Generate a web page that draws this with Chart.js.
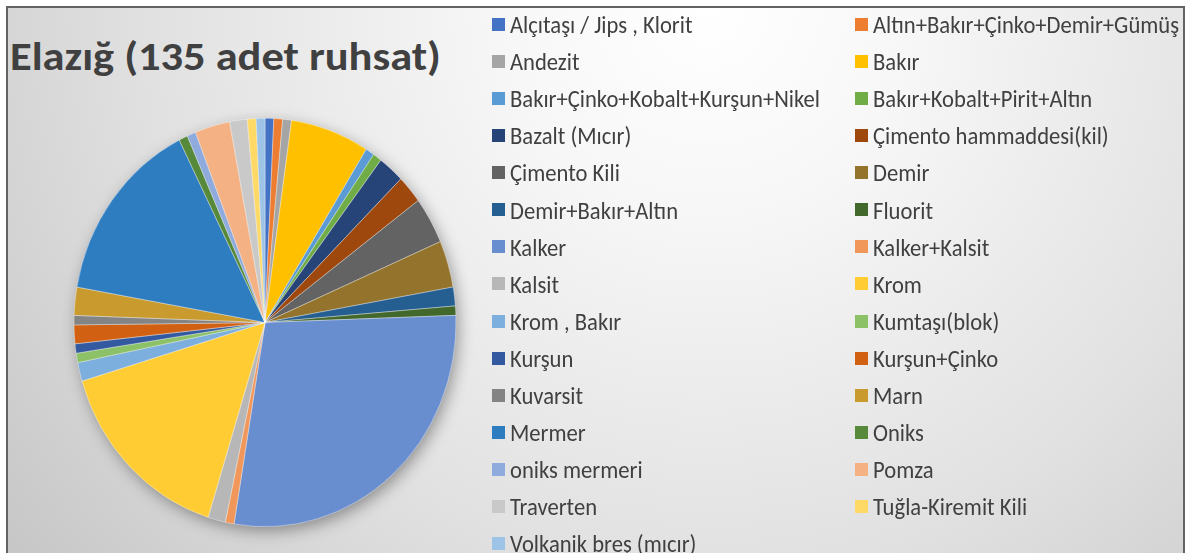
<!DOCTYPE html>
<html>
<head>
<meta charset="utf-8">
<script src="https://cdn.jsdelivr.net/npm/chart.js@4"></script>
<style>
  html, body { margin:0; padding:0; background:#ffffff; }
  body { width:1189px; height:553px; overflow:hidden; position:relative; font-family: Carlito, Lato, sans-serif; }
  #frame { position:absolute; left:6px; top:6px; width:1175px; height:600px;
    border:2px solid #636363; border-bottom:none;
    background: radial-gradient(circle at 700px 0px, #ffffff 0px, #f7f7f7 200px, #e1e1e1 560px, #c7c7c7 880px); }
  #title { position:absolute; left:10px; top:36px; font-weight:700; color:#404040; white-space:nowrap; line-height:1; transform-origin:0 0; }
  #wrap { position:absolute; left:0; top:0; width:1189px; height:553px; }
  #legend { position:absolute; left:492px; top:6px; display:grid; grid-template-columns:363px 330px; grid-auto-rows:37.07px; }
  .item { display:flex; align-items:center; color:#404040; white-space:nowrap; }
  .box { width:13px; height:13px; flex:0 0 13px; margin-right:5px; }
  .txt { line-height:1; display:inline-block; position:relative; top:1px; transform:scaleY(1.06); }
</style>
</head>
<body>
<div id="frame"></div>
<div id="title"></div>
<div id="wrap"><canvas id="c" width="1189" height="553"></canvas></div>
<div id="legend"></div>
<script>
const titleText = "Elazığ (135 adet ruhsat)";
const categories = [
  "Alçıtaşı / Jips , Klorit", "Altın+Bakır+Çinko+Demir+Gümüş",
  "Andezit", "Bakır",
  "Bakır+Çinko+Kobalt+Kurşun+Nikel", "Bakır+Kobalt+Pirit+Altın",
  "Bazalt (Mıcır)", "Çimento hammaddesi(kil)",
  "Çimento Kili", "Demir",
  "Demir+Bakır+Altın", "Fluorit",
  "Kalker", "Kalker+Kalsit",
  "Kalsit", "Krom",
  "Krom , Bakır", "Kumtaşı(blok)",
  "Kurşun", "Kurşun+Çinko",
  "Kuvarsit", "Marn",
  "Mermer", "Oniks",
  "oniks mermeri", "Pomza",
  "Traverten", "Tuğla-Kiremit Kili",
  "Volkanik breş (mıcır)"
];
const counts = [
  1, 1,
  1, 9,
  1, 1,
  3, 3,
  5, 5,
  2, 1,
  38, 1,
  2, 21,
  2, 1,
  1, 2,
  1, 3,
  20, 1,
  1, 4,
  2, 1,
  1
];
const colors = [
  "#4472C4", "#ED7D31",
  "#A5A5A5", "#FFC000",
  "#5B9BD5", "#70AD47",
  "#264478", "#9E480E",
  "#636363", "#94732C",
  "#255E91", "#43682B",
  "#698ED0", "#F1975A",
  "#B7B7B7", "#FFCD33",
  "#7CAFDD", "#8CC168",
  "#335AA1", "#D26012",
  "#848484", "#C99A2E",
  "#2F7DC1", "#568A3A",
  "#8FAADC", "#F4B183",
  "#C9C9C9", "#FFD966",
  "#9DC3E6"
];

const FAMILY = "Carlito, Lato, sans-serif";
function fitSize(text, weight, target) {
  const c = document.createElement('canvas').getContext('2d');
  c.font = weight + " 100px " + FAMILY;
  return 100 * target / c.measureText(text).width;
}

// title: fit width, stretch height to match reference cap height
const titleEl = document.getElementById('title');
titleEl.textContent = titleText;
const tSize = fitSize(titleText, "700", 431);
titleEl.style.fontSize = tSize.toFixed(2) + "px";
const capH = 0.7165 * tSize;
const k = 29 / capH;
titleEl.style.transform = "scaleY(" + k.toFixed(3) + ")";
titleEl.style.top = (43 - 0.17 * tSize * k).toFixed(1) + "px";

// legend (HTML, built from the arrays)
const legendSize = fitSize("Bakır+Çinko+Kobalt+Kurşun+Nikel", "400", 310);
const legendEl = document.getElementById('legend');
categories.forEach((name, i) => {
  const it = document.createElement('div');
  it.className = 'item';
  const b = document.createElement('span');
  b.className = 'box';
  b.style.background = colors[i];
  const t = document.createElement('span');
  t.className = 'txt';
  t.style.fontSize = legendSize.toFixed(2) + "px";
  t.textContent = name;
  it.appendChild(b); it.appendChild(t);
  legendEl.appendChild(it);
});

// pie is slightly elliptical in the reference
const SY = 204.2 / 191;
const ellipsePlugin = {
  id: 'ellipse',
  beforeDatasetsDraw(chart) {
    const arc = chart.getDatasetMeta(0).data[0];
    const x = arc.x, y = arc.y, r = arc.outerRadius;
    const ctx = chart.ctx;
    ctx.save();
    ctx.translate(x, y); ctx.scale(1, SY); ctx.translate(-x, -y);
    ctx.save();
    ctx.shadowColor = 'rgba(0,0,0,0.38)';
    ctx.shadowBlur = 16;
    ctx.shadowOffsetX = 3;
    ctx.shadowOffsetY = 5;
    ctx.fillStyle = '#aaaaaa';
    ctx.beginPath(); ctx.arc(x, y, r - 1, 0, Math.PI * 2); ctx.fill();
    ctx.restore();
  },
  afterDatasetsDraw(chart) { chart.ctx.restore(); }
};

new Chart(document.getElementById('c'), {
  type: 'pie',
  data: {
    labels: categories,
    datasets: [{ data: counts, backgroundColor: colors, borderWidth: 0.5, borderColor: 'rgba(255,255,255,0.7)' }]
  },
  options: {
    responsive: false,
    animation: false,
    radius: 191,
    layout: { padding: { left: 74, right: 733, top: 131.5, bottom: 39.5 } },
    plugins: { legend: { display: false }, title: { display: false }, tooltip: { enabled: false } }
  },
  plugins: [ellipsePlugin]
});
</script>
</body>
</html>
